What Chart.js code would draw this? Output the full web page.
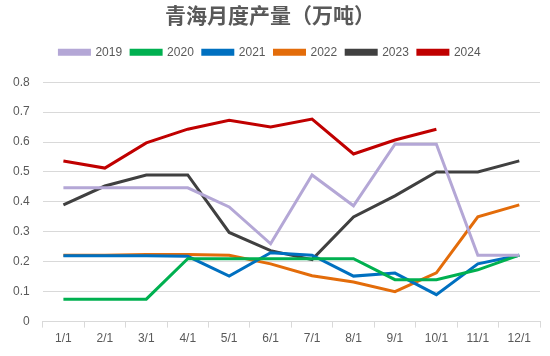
<!DOCTYPE html>
<html>
<head>
<meta charset="utf-8">
<script src="https://cdn.jsdelivr.net/npm/chart.js@4"></script>
<style>
html,body{margin:0;padding:0;background:#fff;}
#wrap{width:550px;height:356px;}
</style>
</head>
<body>
<div id="wrap"><canvas id="c" width="550" height="356"></canvas></div>
<script>
const categories = ['1/1','2/1','3/1','4/1','5/1','6/1','7/1','8/1','9/1','10/1','11/1','12/1'];
const yTicks = [0,0.1,0.2,0.3,0.4,0.5,0.6,0.7,0.8];
const s2019 = [0.447,0.447,0.447,0.447,0.383,0.26,0.49,0.387,0.593,0.593,0.222,0.222];
const s2020 = [0.075,0.075,0.075,0.21,0.21,0.21,0.21,0.21,0.14,0.14,0.173,0.222];
const s2021 = [0.22,0.22,0.22,0.218,0.152,0.23,0.222,0.152,0.162,0.09,0.193,0.222];
const s2022 = [0.222,0.222,0.224,0.224,0.222,0.193,0.153,0.132,0.1,0.163,0.35,0.39];
const s2023 = [0.39,0.453,0.49,0.49,0.298,0.237,0.207,0.35,0.42,0.5,0.5,0.537];
const s2024 = [0.537,0.513,0.597,0.643,0.673,0.65,0.677,0.56,0.607,0.643,null,null];

const seriesNames = ['2019','2020','2021','2022','2023','2024'];
const seriesData = [s2019,s2020,s2021,s2022,s2023,s2024];
const seriesColors = ['#b4a7d6','#00b050','#0070c0','#e36c0a','#404040','#c00000'];

const datasets = seriesNames.map((n,i)=>({
  label:n,
  data:seriesData[i],
  borderColor:seriesColors[i],
  backgroundColor:seriesColors[i],
  borderWidth:3,
  pointRadius:0,
  tension:0,
  fill:false,
  spanGaps:false
}));

const legendGap = {
  id:'legendGap',
  afterInit(chart){
    const lg = chart.legend;
    if(!lg) return;
    const fit = lg.fit;
    lg.fit = function(){ fit.call(this); this.height += 14; };
  }
};

new Chart(document.getElementById('c'),{
  type:'line',
  data:{labels:categories,datasets:datasets},
  plugins:[legendGap],
  options:{
    responsive:false,
    animation:false,
    layout:{padding:{left:0,right:10,top:0,bottom:6}},
    plugins:{
      title:{display:true,text:'青海月度产量（万吨）',color:'#595959',
        font:{family:'"Noto Sans CJK SC", sans-serif',size:21,weight:'bold'},
        padding:{top:2,bottom:10}},
      legend:{position:'top',
        labels:{boxWidth:30,boxHeight:4,color:'#595959',padding:9,
          font:{family:'"Liberation Sans", Arial, sans-serif',size:12}}},
      tooltip:{enabled:false}
    },
    scales:{
      x:{offset:true,
        grid:{display:true,offset:true,drawOnChartArea:false,drawTicks:true,tickLength:6,color:'#d9d9d9'},
        border:{display:true,color:'#d9d9d9'},
        ticks:{color:'#595959',font:{family:'"Liberation Sans", Arial, sans-serif',size:12},maxRotation:0,padding:4}},
      y:{min:0,max:0.8,
        afterBuildTicks:(ax)=>{ax.ticks=yTicks.map(v=>({value:v}));},
        grid:{color:'#d9d9d9',drawTicks:false,lineWidth:1},
        border:{display:false},
        ticks:{color:'#595959',font:{family:'"Liberation Sans", Arial, sans-serif',size:12},padding:13,
          callback:(v)=>String(Math.round(v*10)/10)}}
    }
  }
});
</script>
</body>
</html>
